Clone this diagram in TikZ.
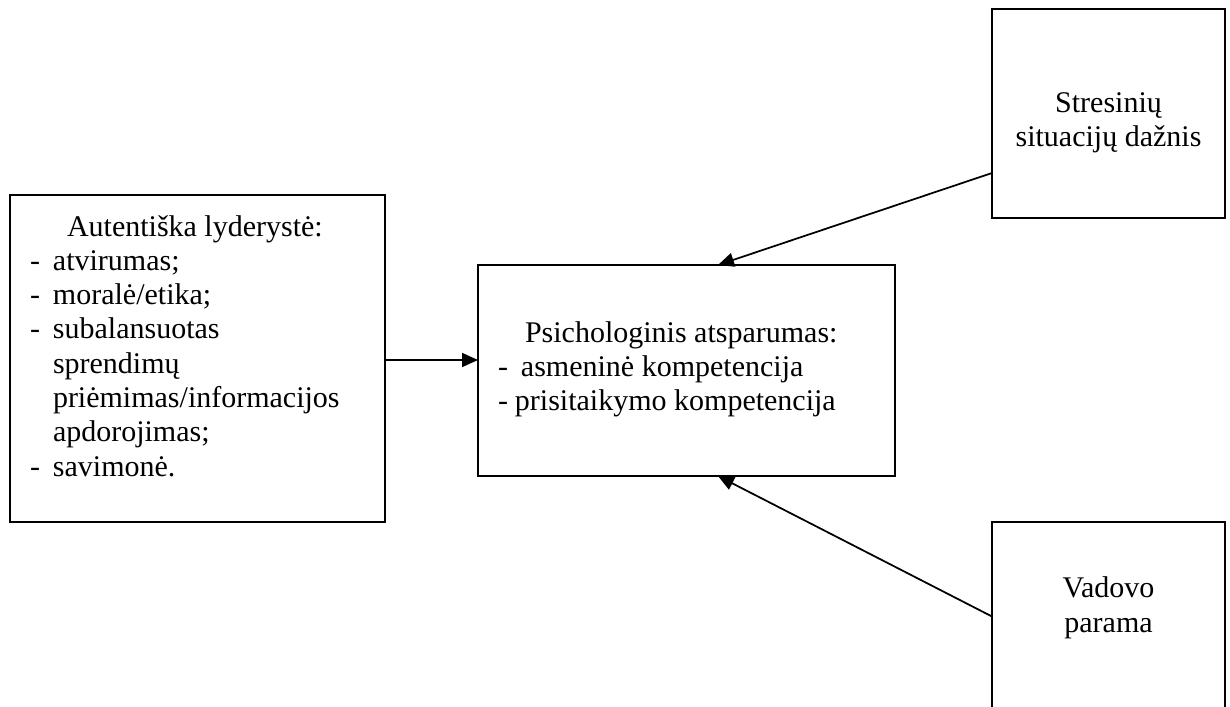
\documentclass[tikz,border=0pt]{standalone}
\usepackage{fontspec}
\setmainfont{Liberation Serif}
\usetikzlibrary{arrows.meta}
\tikzset{
  box/.style={draw, line width=0.8pt, inner sep=0pt, outer sep=0pt},
  txt/.style={inner sep=0pt, outer sep=0pt, font=\fontsize{12}{13.6}\selectfont},
  arr/.style={line width=0.7pt, -{Triangle[length=6.4pt,width=5.6pt]}}
}
\newcommand{\dashitem}[1]{\makebox[9.2pt][l]{-}#1}
\begin{document}
\begin{tikzpicture}[x=0.4pt, y=-0.4pt]
\useasboundingbox (0,0) rectangle (1230,706);
\clip (0,0) rectangle (1230,706);
% boxes
\node[box, minimum width=150pt, minimum height=130.8pt] (lbox) at (197.5,358.5) {};
\node[box, minimum width=166.8pt, minimum height=84.4pt] (cbox) at (686.5,370.5) {};
\node[box, minimum width=93.2pt, minimum height=83.6pt] (sbox) at (1108.5,113.5) {};
\node[box, minimum width=93.2pt, minimum height=83.6pt] (vbox) at (1108.5,626.5) {};
% left box text
\node[txt, anchor=base west] (l1) at (67,236) {Autentiška lyderystė:};
\node[txt, anchor=base west] (l2) at (30,270.3) {\dashitem{atvirumas;}};
\node[txt, anchor=base west] (l3) at (30,304.6) {\dashitem{moralė/etika;}};
\node[txt, anchor=base west] (l4) at (30,338.9) {\dashitem{subalansuotas}};
\node[txt, anchor=base west] (l5) at (53,373.2) {sprendimų};
\node[txt, anchor=base west] (l6) at (53,407.5) {priėmimas/informacijos};
\node[txt, anchor=base west] (l7) at (53,441.8) {apdorojimas;};
\node[txt, anchor=base west] (l8) at (30,476.1) {\dashitem{savimonė.}};
% center box text
\node[txt, anchor=base west] (c1) at (525,342) {Psichologinis atsparumas:};
\node[txt, anchor=base west] (c2) at (498,376) {\makebox[9.2pt][l]{-}asmeninė kompetencija};
\node[txt, anchor=base west] (c3) at (498,410) {\makebox[6.8pt][l]{-}prisitaikymo kompetencija};
% right boxes text
\node[txt, anchor=base] (s1) at (1108.5,112) {Stresinių};
\node[txt, anchor=base] (s2) at (1108.5,146) {situacijų dažnis};
\node[txt, anchor=base] (v1) at (1108.5,597) {Vadovo};
\node[txt, anchor=base] (v2) at (1108.5,632) {parama};
% connectors
\draw[arr] ([yshift=-0.6pt]lbox.east) coordinate (a1) -- (cbox.west |- a1);
\draw[arr] ([yshift=-23.8pt]sbox.west) -- ([xshift=12.6pt]cbox.north);
\draw[arr] ([yshift=4pt]vbox.west) -- ([xshift=12.6pt]cbox.south);
\end{tikzpicture}
\end{document}
